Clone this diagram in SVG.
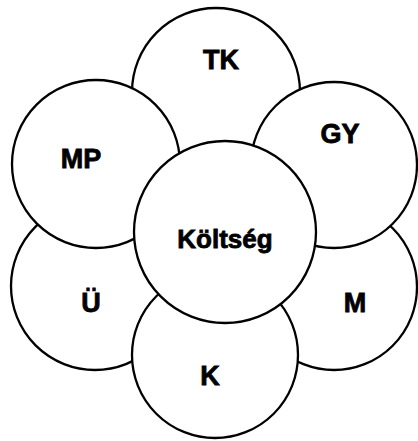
<svg xmlns="http://www.w3.org/2000/svg" width="418" height="441" viewBox="0 0 418 441">
<style>
.c{fill:#fff;stroke:#000;stroke-width:2.3}
.t{font-family:"Liberation Sans",Arial,sans-serif;font-weight:bold;font-size:27px;text-anchor:middle;fill:#000;stroke:#000;stroke-width:0.8}
.m{font-size:26px}
</style>
<rect width="418" height="441" fill="#fff"/>
<g id="connectors"/>
<g id="TK"><circle class="c" cx="216" cy="92" r="84"/><text class="t" x="221" y="69">TK</text></g>
<g id="U"><circle class="c" cx="95" cy="286" r="84"/><text class="t" x="91" y="312">Ü</text></g>
<g id="M"><circle class="c" cx="334" cy="287" r="83"/><text class="t" x="355" y="312">M</text></g>
<g id="MP"><circle class="c" cx="96" cy="164" r="84"/><text class="t" x="81" y="168">MP</text></g>
<g id="GY"><circle class="c" cx="334" cy="165" r="83"/><text class="t" x="340" y="143">GY</text></g>
<g id="K"><circle class="c" cx="215" cy="355" r="83"/><text class="t" x="210" y="385">K</text></g>
<g id="Koltseg"><circle class="c" cx="225" cy="232" r="91"/><text class="t m" x="225" y="248">Költség</text></g>
</svg>
